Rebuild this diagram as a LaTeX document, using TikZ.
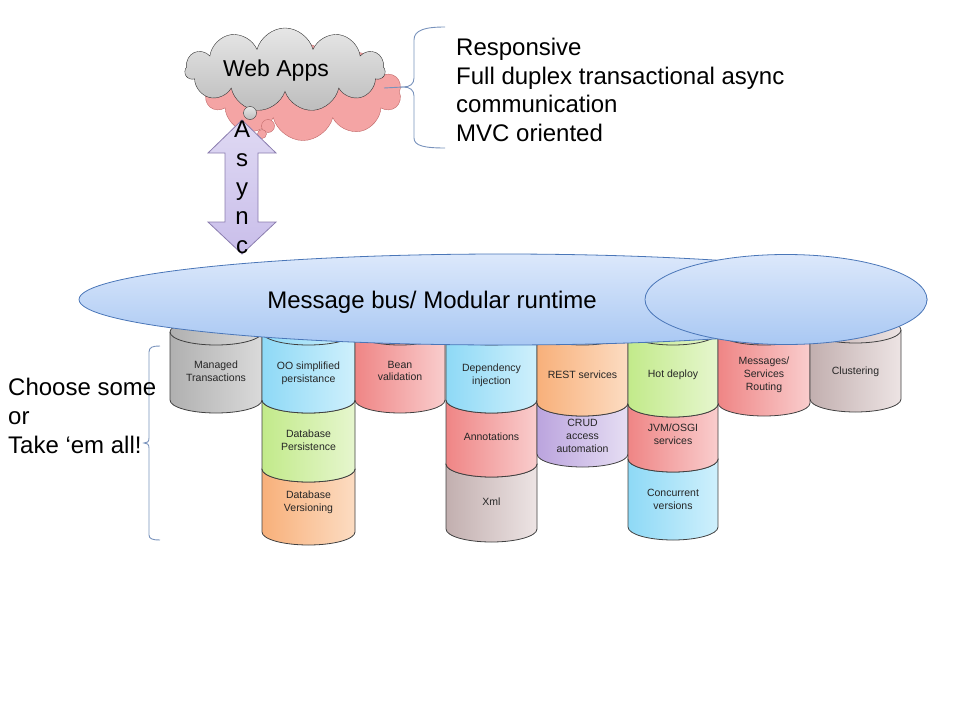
\documentclass[tikz,border=0pt]{standalone}
\usepackage{fontspec}
\setmainfont{Liberation Sans}
\usetikzlibrary{shapes.geometric,shapes.symbols}
\definecolor{busT}{HTML}{DCE8FB}
\definecolor{busB}{HTML}{A9C8F3}
\definecolor{busedge}{HTML}{4A76B8}
\definecolor{gyL}{HTML}{B0B0B0}\definecolor{gyR}{HTML}{DADADA}
\definecolor{blL}{HTML}{8ED9F6}\definecolor{blR}{HTML}{CFF0FC}
\definecolor{rdL}{HTML}{EF8585}\definecolor{rdR}{HTML}{F9CDCD}
\definecolor{grL}{HTML}{C2EA8A}\definecolor{grR}{HTML}{E6F6CE}
\definecolor{orL}{HTML}{F8B07A}\definecolor{orR}{HTML}{FCDCC2}
\definecolor{puL}{HTML}{BBA4DE}\definecolor{puR}{HTML}{E6DEF3}
\definecolor{gpL}{HTML}{C2AFAF}\definecolor{gpR}{HTML}{EDE4E4}
\definecolor{pinkfill}{HTML}{F4A4A4}\definecolor{pinkedge}{HTML}{C06868}
\definecolor{cloudT}{HTML}{E6E6E6}\definecolor{cloudB}{HTML}{BDBDBD}
\definecolor{arrT}{HTML}{DFD9F3}\definecolor{arrB}{HTML}{C9BEEA}\definecolor{arrE}{HTML}{8A7CAE}
\definecolor{braceblue}{HTML}{7892BC}
\tikzset{
  cylstyle/.style={draw=black!75, line width=0.8pt},
  cyltext/.style={align=center, font=\fontsize{10.5}{12.8}\selectfont, text=black!85, inner sep=0pt},
  bigtext/.style={font=\fontsize{24}{28.8}\selectfont, inner sep=0pt},
  bracestyle/.style={draw=braceblue, line width=0.9pt},
  busstyle/.style={ellipse, draw=busedge, line width=0.8pt, top color=busT, bottom color=busB, inner sep=0pt, outer sep=0pt},
}
\newcommand\mycyl[9]{%
  \pgfmathsetmacro\cylrx{(#3-#2)/2}%
  \draw[cylstyle, left color=#6, right color=#7] (#2,-#4) -- (#2,-#5)
     arc[start angle=180,end angle=360,x radius=\cylrx pt,y radius=13pt] -- (#3,-#4)
     arc[start angle=0,end angle=180,x radius=\cylrx pt,y radius=13pt] -- cycle;
  \draw[cylstyle] (#2,-#4) arc[start angle=180,end angle=360,x radius=\cylrx pt,y radius=13pt];
  \node[cyltext] (#1) at ({(#2+#3)/2},-#9) {#8};
}
\begin{document}
\begin{tikzpicture}[x=1pt,y=1pt]
\useasboundingbox (0,0) rectangle (960,-720);
% right brace
\coordinate (rbtip) at (403,-87);
\coordinate (rbend) at (384,-88);
\draw[bracestyle] (445,-27) .. controls (425,-27) and (414,-30) .. (414,-40) -- (414,-78)
  .. controls (414,-84) and (410,-87) .. (rbtip)
  .. controls (410,-87) and (414,-90) .. (414,-96) -- (414,-138)
  .. controls (414,-146) and (425,-148) .. (445,-148);
% left brace
\coordinate (lbtip) at (144,-443);
\draw[bracestyle] (160,-346) .. controls (153,-346) and (149,-347) .. (149,-352) -- (149,-438)
  .. controls (149,-442) and (147,-443) .. (lbtip)
  .. controls (147,-443) and (149,-444) .. (149,-448) -- (149,-535)
  .. controls (149,-539) and (153,-540) .. (160,-540);
% clouds
\node[cloud, cloud puffs=10, aspect=2.3, minimum width=196pt, minimum height=97pt, draw=pinkedge, fill=pinkfill, inner sep=0pt] (pinkcloud) at (303,-92) {};
\draw[bracestyle] (rbtip) -- (rbend);
\node[circle, draw=pinkedge, fill=pinkfill, minimum size=13pt, inner sep=0pt] (pb1) at (268,-126) {};
\node[circle, draw=pinkedge, fill=pinkfill, minimum size=9pt, inner sep=0pt] (pb2) at (262,-134) {};
\node[cloud, cloud puffs=11, aspect=2.4, minimum width=200pt, minimum height=84pt, draw=black!80, top color=cloudT, bottom color=cloudB, inner sep=0pt] (webapps) at (285,-70) {};
\node[circle, draw=black!80, top color=cloudT, bottom color=cloudB, minimum size=13pt, inner sep=0pt] (gb1) at (250,-113) {};
\node[font=\fontsize{23}{27}\selectfont, inner sep=0pt, anchor=base] (webtext) at (276,-76) {Web Apps};
% arrow
\draw[draw=arrE, line width=0.8pt, top color=arrT, bottom color=arrB] (242,-120) -- (276,-153) -- (258,-153) -- (258,-222) -- (276,-222) -- (242,-254) -- (208,-222) -- (225,-222) -- (225,-153) -- (208,-153) -- cycle;
% cylinders row 3
\mycyl{dbver}{262}{355}{469}{532}{orL}{orR}{Database\\Versioning}{502}
\mycyl{xml}{446}{537}{464}{529}{gpL}{gpR}{Xml}{502}
\mycyl{concur}{628}{718}{459}{527}{blL}{blR}{Concurrent\\versions}{499}
% row 2
\mycyl{dbpers}{262}{355}{400}{469}{grL}{grR}{Database\\Persistence}{440}
\mycyl{annot}{446}{537}{400}{464}{rdL}{rdR}{Annotations}{437}
\mycyl{crud}{537}{628}{403}{454}{puL}{puR}{CRUD\\access\\automation}{436}
\mycyl{jvm}{628}{718}{404}{459}{rdL}{rdR}{JVM/OSGI\\services}{434}
% row 1
\mycyl{managed}{170}{262}{332}{400}{gyL}{gyR}{Managed\\Transactions}{371}
\mycyl{oo}{262}{355}{332}{400}{blL}{blR}{OO simplified\\persistance}{373}
\mycyl{bean}{355}{445}{332}{400}{rdL}{rdR}{Bean\\validation}{371}
\mycyl{depinj}{446}{537}{332}{400}{blL}{blR}{Dependency\\injection}{375}
\mycyl{rest}{537}{628}{332}{403}{orL}{orR}{REST services}{375}
\mycyl{hot}{628}{718}{332}{404}{grL}{grR}{Hot deploy}{375}
\mycyl{msg}{718}{810}{332}{403}{rdL}{rdR}{Messages/\\Services\\Routing}{375}
\mycyl{clus}{810}{901}{330}{399}{gpL}{gpR}{Clustering}{372}
% bus
\node[busstyle, minimum width=848pt, minimum height=91pt] (bus) at (503,-299.5) {};
\node[busstyle, minimum width=282pt, minimum height=90pt] (busright) at (786,-299.5) {};
\node[bigtext, anchor=base] (bustext) at (432,-308.5) {Message bus/ Modular runtime};
% async letters
\foreach \l/\yy [count=\i] in {A/137,s/166,y/195,n/224,c/253}
  \node[bigtext, anchor=base] (async\i) at (242,-\yy) {\l};
% right text
\node[bigtext, anchor=base west] (r1) at (456,-55.5) {Responsive};
\node[bigtext, anchor=base west] (r2) at (456,-84.5) {Full duplex transactional async};
\node[bigtext, anchor=base west] (r3) at (456,-112.5) {communication};
\node[bigtext, anchor=base west] (r4) at (456,-141.5) {MVC oriented};
% left text
\node[bigtext, anchor=base west] (l1) at (8,-395.5) {Choose some};
\node[bigtext, anchor=base west] (l2) at (8,-424.5) {or};
\node[bigtext, anchor=base west] (l3) at (8,-453.5) {Take ‘em all!};
\end{tikzpicture}
\end{document}
